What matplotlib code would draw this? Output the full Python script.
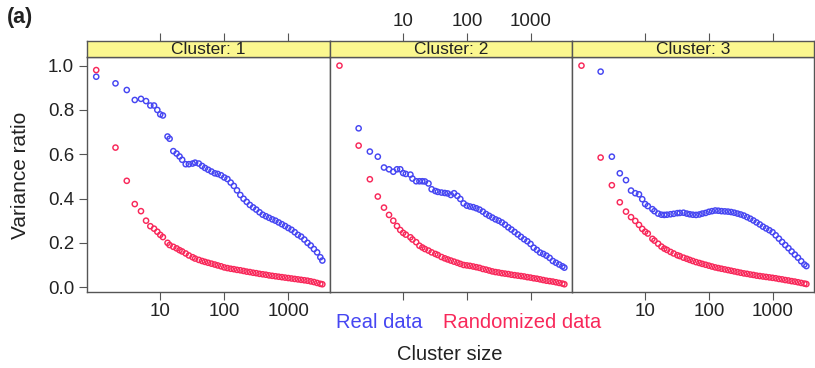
import numpy as np
import matplotlib
matplotlib.use("Agg")
import matplotlib.pyplot as plt
from matplotlib.ticker import NullLocator

plt.rcParams["font.family"] = ["Liberation Sans", "DejaVu Sans"]

# cluster sizes shared by all three panels
cluster_size = [
    1, 2, 3, 4, 5, 6, 7, 8, 9,
    10, 11, 13, 14, 16, 18, 20, 22, 25, 28, 32, 35, 40, 45, 50, 56, 63, 71, 79, 89,
    100, 112, 126, 141, 158, 178, 200, 224, 251, 282, 316, 355, 398, 447, 501, 562, 631, 708, 794, 891,
    1000, 1122, 1259, 1413, 1585, 1778, 1995, 2239, 2512, 2818, 3162, 3400,
]

real_c1 = [
    0.95, 0.92, 0.89, 0.845, 0.85, 0.84, 0.82, 0.82, 0.80,
    0.78, 0.775, 0.68, 0.67, 0.614, 0.603, 0.59, 0.575, 0.555, 0.555, 0.558, 0.562, 0.558, 0.547, 0.538, 0.53, 0.522, 0.514, 0.511, 0.505,
    0.495, 0.488, 0.472, 0.457, 0.437, 0.416, 0.399, 0.385, 0.371, 0.36, 0.35, 0.338, 0.327, 0.32, 0.313, 0.306, 0.30, 0.292, 0.284, 0.276,
    0.267, 0.259, 0.248, 0.236, 0.228, 0.215, 0.20, 0.188, 0.172, 0.157, 0.135, 0.12,
]
rand_c1 = [
    0.98, 0.63, 0.48, 0.375, 0.343, 0.30, 0.275, 0.264, 0.25,
    0.236, 0.226, 0.20, 0.19, 0.182, 0.175, 0.167, 0.161, 0.152, 0.143, 0.135, 0.129, 0.123, 0.118, 0.114, 0.11, 0.106, 0.102, 0.098, 0.094,
    0.089, 0.086, 0.083, 0.081, 0.078, 0.076, 0.073, 0.07, 0.068, 0.065, 0.063, 0.06, 0.058, 0.056, 0.053, 0.051, 0.049, 0.047, 0.045, 0.043,
    0.041, 0.039, 0.037, 0.035, 0.033, 0.031, 0.029, 0.026, 0.023, 0.019, 0.015, 0.013,
]

real_c2 = [
    np.nan, 0.717, 0.612, 0.589, 0.54, 0.532, 0.521, 0.532, 0.532,
    0.515, 0.511, 0.508, 0.49, 0.478, 0.478, 0.478, 0.477, 0.468, 0.442, 0.434, 0.43, 0.427, 0.425, 0.423, 0.416, 0.424, 0.412, 0.398, 0.378,
    0.368, 0.364, 0.361, 0.356, 0.35, 0.341, 0.33, 0.322, 0.314, 0.306, 0.30, 0.292, 0.282, 0.27, 0.26, 0.249, 0.238, 0.227, 0.216, 0.207,
    0.195, 0.178, 0.168, 0.156, 0.15, 0.142, 0.132, 0.118, 0.11, 0.102, 0.094, 0.088,
]
rand_c2 = [
    1.0, 0.639, 0.487, 0.409, 0.359, 0.326, 0.30, 0.276, 0.258,
    0.245, 0.237, 0.225, 0.215, 0.203, 0.187, 0.179, 0.172, 0.165, 0.157, 0.15, 0.145, 0.136, 0.13, 0.125, 0.12, 0.115, 0.11, 0.105, 0.10,
    0.098, 0.096, 0.093, 0.09, 0.087, 0.082, 0.079, 0.075, 0.071, 0.068, 0.066, 0.063, 0.061, 0.059, 0.056, 0.054, 0.052, 0.05, 0.048, 0.045,
    0.043, 0.04, 0.038, 0.035, 0.032, 0.029, 0.027, 0.025, 0.022, 0.019, 0.016, 0.013,
]

real_c3 = [
    np.nan, 0.973, 0.589, 0.514, 0.483, 0.436, 0.424, 0.419, 0.397,
    0.375, 0.366, 0.352, 0.343, 0.332, 0.327, 0.326, 0.327, 0.329, 0.331, 0.334, 0.335, 0.336, 0.332, 0.329, 0.327, 0.326, 0.328, 0.332, 0.335,
    0.34, 0.343, 0.346, 0.345, 0.343, 0.342, 0.341, 0.339, 0.336, 0.332, 0.328, 0.323, 0.316, 0.309, 0.301, 0.292, 0.283, 0.273, 0.265, 0.257,
    0.248, 0.234, 0.219, 0.204, 0.19, 0.176, 0.161, 0.147, 0.133, 0.117, 0.102, 0.095,
]
rand_c3 = [
    1.0, 0.585, 0.46, 0.383, 0.341, 0.316, 0.299, 0.281, 0.263,
    0.25, 0.242, 0.218, 0.21, 0.196, 0.183, 0.174, 0.168, 0.159, 0.152, 0.144, 0.14, 0.133, 0.128, 0.123, 0.118, 0.113, 0.109, 0.105, 0.101,
    0.097, 0.093, 0.089, 0.086, 0.083, 0.08, 0.077, 0.074, 0.071, 0.068, 0.065, 0.062, 0.06, 0.057, 0.055, 0.052, 0.05, 0.048, 0.046, 0.044,
    0.042, 0.04, 0.037, 0.035, 0.032, 0.03, 0.027, 0.025, 0.022, 0.019, 0.016, 0.014,
]

panel_titles = ["Cluster: 1", "Cluster: 2", "Cluster: 3"]
real_series = [real_c1, real_c2, real_c3]
rand_series = [rand_c1, rand_c2, rand_c3]

x_ticks = [10, 100, 1000]
x_tick_labels = ["10", "100", "1000"]
y_ticks = [0.0, 0.2, 0.4, 0.6, 0.8, 1.0]
y_tick_labels = ["0.0", "0.2", "0.4", "0.6", "0.8", "1.0"]

BLUE = "#4646f2"
RED = "#f8285a"
YELLOW = "#fbf78f"
FRAME = "#555555"
TEXT = "#222222"

W, H = 815, 368


def px_box(left, top, right, bottom):
    return [left / W, 1 - bottom / H, (right - left) / W, (bottom - top) / H]


def draw_panels(fig):
    edges = [(86.7, 330.0), (330.0, 572.0), (572.0, 814.0)]
    for i, (left, right) in enumerate(edges):
        ax = fig.add_axes(px_box(left, 57, right, 292))
        ax.scatter(cluster_size, real_series[i], s=14, facecolors="none",
                   edgecolors=BLUE, linewidths=1.05)
        ax.scatter(cluster_size, rand_series[i], s=14, facecolors="none",
                   edgecolors=RED, linewidths=1.05)
        ax.set_xscale("log")
        ax.set_xlim(0.71, 4480)
        ax.set_ylim(-0.022, 1.039)
        ax.xaxis.set_minor_locator(NullLocator())
        ax.set_xticks(x_ticks)
        ax.set_xticklabels(x_tick_labels if i != 1 else ["", "", ""])
        ax.tick_params(axis="x", direction="out", length=6, width=0.8,
                       color=FRAME, labelsize=13.5, labelcolor=TEXT, pad=2)
        if i == 0:
            ax.set_yticks(y_ticks)
            ax.set_yticklabels(y_tick_labels)
            ax.tick_params(axis="y", direction="out", length=6, width=0.8,
                           color=FRAME, labelsize=13.5, labelcolor=TEXT, pad=3)
        else:
            ax.set_yticks([])
        for sp in ax.spines.values():
            sp.set_color(FRAME)
            sp.set_linewidth(1.0)

        # yellow strip with the panel name; top ticks sit above it
        strip = fig.add_axes(px_box(left, 41, right, 57))
        strip.set_facecolor(YELLOW)
        strip.set_xscale("log")
        strip.set_xlim(0.71, 4480)
        strip.xaxis.set_minor_locator(NullLocator())
        strip.set_yticks([])
        strip.xaxis.tick_top()
        strip.set_xticks(x_ticks)
        strip.set_xticklabels(x_tick_labels if i == 1 else ["", "", ""])
        strip.tick_params(axis="x", direction="out", length=6, width=0.8,
                          color=FRAME, labelsize=13.5, labelcolor=TEXT, pad=2)
        for sp in strip.spines.values():
            sp.set_color(FRAME)
            sp.set_linewidth(1.0)
        strip.text(0.5, 0.45, panel_titles[i], transform=strip.transAxes,
                   ha="center", va="center", fontsize=12.5, color=TEXT)


def main():
    fig = plt.figure(figsize=(W / 100, H / 100), dpi=100)
    draw_panels(fig)

    fig.text(7 / W, 1 - 17 / H, "(a)", fontsize=15.5, fontweight="bold",
             ha="left", va="center", color=TEXT)
    fig.text(21 / W, 1 - 175 / H, "Variance ratio", rotation=90,
             fontsize=15, ha="center", va="center", color=TEXT)
    fig.text(336 / W, 1 - 322 / H, "Real data", fontsize=14.5,
             ha="left", va="center", color=BLUE)
    fig.text(443 / W, 1 - 322 / H, "Randomized data", fontsize=14.5,
             ha="left", va="center", color=RED)
    fig.text(450 / W, 1 - 355 / H, "Cluster size", fontsize=14.5,
             ha="center", va="center", color=TEXT)

    fig.savefig("out.png", dpi=100)
    plt.close(fig)


if __name__ == "__main__":
    main()
